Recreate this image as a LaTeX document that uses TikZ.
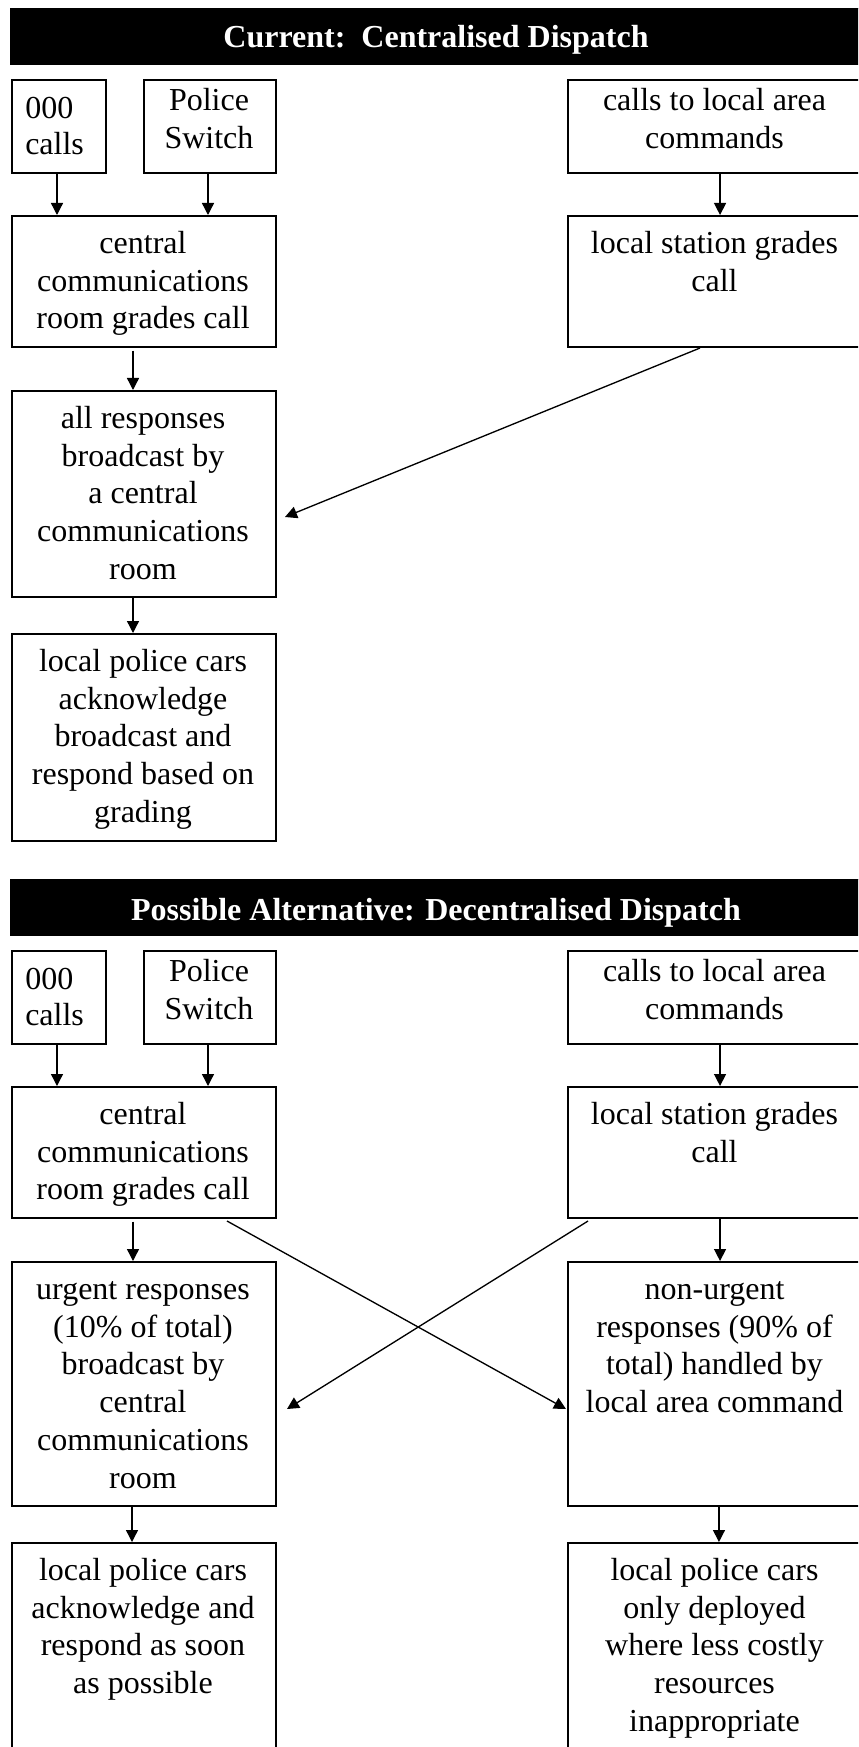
\documentclass[tikz,border=0pt]{standalone}
\usepackage{fontspec}
\setmainfont{Liberation Serif}
\usetikzlibrary{arrows.meta}
\newcommand\fstrut[1]{\rule{0pt}{#1}}
\begin{document}
\begin{tikzpicture}[x=0.75pt,y=-0.75pt,
  box/.style={draw, line width=1.5pt, rectangle, inner sep=0pt, anchor=north west},
  txt/.style={anchor=north, align=center, inner sep=0pt, font=\fontsize{24}{28.35}\selectfont},
  hdr/.style={fill=black, draw=black, inner sep=0pt, anchor=north west, minimum width=639pt, minimum height=42pt},
  htxt/.style={anchor=base, inner sep=0pt, text=white, font=\fontsize{24}{28}\selectfont\bfseries},
  arr/.style={-{Triangle[width=9pt,length=9pt]}, line width=1pt}]
\useasboundingbox (0,0) rectangle (858,1747);
\clip (0,0) rectangle (858,1747);

% ---------- Section 1 ----------
\node[hdr] (H1) at (10,8) {};
\node[htxt] (H1t) at (436,48) {Current:\ \ Centralised Dispatch};

\node[box, minimum width=70.5pt, minimum height=69.75pt] (A1) at (11,79) {};
\node[txt, anchor=north west, align=left, font=\fontsize{24}{27}\selectfont] (A1t) at (25,79) {\fstrut{29.25pt}000\\calls};
\node[box, minimum width=99pt, minimum height=69.75pt] (P1) at (143,79) {};
\node[txt] (P1t) at (209,79) {\fstrut{23.25pt}Police\\Switch};
\node[box, minimum width=221.25pt, minimum height=69.75pt] (L1) at (567,79) {};
\node[txt] (L1t) at (714.5,79) {\fstrut{23.25pt}calls to local area\\commands};

\node[box, minimum width=198pt, minimum height=98.25pt] (C1) at (11,215) {};
\node[txt] (C1t) at (143,215) {\fstrut{28.5pt}central\\communications\\room grades call};
\node[box, minimum width=221.25pt, minimum height=98.25pt] (S1) at (567,215) {};
\node[txt] (S1t) at (714.5,215) {\fstrut{28.5pt}local station grades\\call};

\node[box, minimum width=198pt, minimum height=154.5pt] (R1) at (11,390) {};
\node[txt] (R1t) at (143,390) {\fstrut{28.5pt}all responses\\broadcast by\\a central\\communications\\room};

\node[box, minimum width=198pt, minimum height=155.25pt] (Q1) at (11,633) {};
\node[txt] (Q1t) at (143,633) {\fstrut{28.5pt}local police cars\\acknowledge\\broadcast and\\respond based on\\grading};

\draw[arr] ([xshift=-1.5pt]A1.south) -- ([xshift=-1.5pt]A1.south |- C1.north);
\draw[arr] ([xshift=-1.5pt]P1.south) -- ([xshift=-1.5pt]P1.south |- C1.north);
\draw[arr] ([xshift=3.4pt]L1.south) -- ([xshift=3.4pt]S1.north);
\draw[arr] ([xshift=-8.25pt,yshift=-2pt]C1.south) -- ([xshift=-8.25pt]R1.north);
\draw[arr] ([xshift=-11.6pt]S1.south) -- ([xshift=6pt,yshift=-17.25pt]R1.east);
\draw[arr] ([xshift=-8.25pt]R1.south) -- ([xshift=-8.25pt]Q1.north);

% ---------- Section 2 ----------
\node[hdr] (H2) at (10,879) {};
\node[htxt] (H2t) at (436,920) {Possible Alternative: Decentralised Dispatch};

\node[box, minimum width=70.5pt, minimum height=69.75pt] (A2) at (11,950) {};
\node[txt, anchor=north west, align=left, font=\fontsize{24}{27}\selectfont] (A2t) at (25,950) {\fstrut{29.25pt}000\\calls};
\node[box, minimum width=99pt, minimum height=69.75pt] (P2) at (143,950) {};
\node[txt] (P2t) at (209,950) {\fstrut{23.25pt}Police\\Switch};
\node[box, minimum width=221.25pt, minimum height=69.75pt] (L2) at (567,950) {};
\node[txt] (L2t) at (714.5,950) {\fstrut{23.25pt}calls to local area\\commands};

\node[box, minimum width=198pt, minimum height=98.25pt] (C2) at (11,1086) {};
\node[txt] (C2t) at (143,1086) {\fstrut{28.5pt}central\\communications\\room grades call};
\node[box, minimum width=221.25pt, minimum height=98.25pt] (S2) at (567,1086) {};
\node[txt] (S2t) at (714.5,1086) {\fstrut{28.5pt}local station grades\\call};

\node[box, minimum width=198pt, minimum height=183pt] (U2) at (11,1261) {};
\node[txt] (U2t) at (143,1261) {\fstrut{28.5pt}urgent responses\\(10\% of total)\\broadcast by\\central\\communications\\room};
\node[box, minimum width=221.25pt, minimum height=183pt] (N2) at (567,1261) {};
\node[txt] (N2t) at (714.5,1261) {\fstrut{28.5pt}non-urgent\\responses (90\% of\\total) handled by\\local area command};

\node[box, minimum width=198pt, minimum height=165pt] (Q2) at (11,1542) {};
\node[txt] (Q2t) at (143,1542) {\fstrut{28.5pt}local police cars\\acknowledge and\\respond as soon\\as possible};
\node[box, minimum width=221.25pt, minimum height=165pt] (W2) at (567,1542) {};
\node[txt] (W2t) at (714.5,1542) {\fstrut{28.5pt}local police cars\\only deployed\\where less costly\\resources\\inappropriate};

\draw[arr] ([xshift=-1.5pt]A2.south) -- ([xshift=-1.5pt]A2.south |- C2.north);
\draw[arr] ([xshift=-1.5pt]P2.south) -- ([xshift=-1.5pt]P2.south |- C2.north);
\draw[arr] ([xshift=3.4pt]L2.south) -- ([xshift=3.4pt]S2.north);
\draw[arr] ([xshift=-8.25pt,yshift=-2pt]C2.south) -- ([xshift=-8.25pt]U2.north);
\draw[arr] ([xshift=3.4pt]S2.south) -- ([xshift=3.4pt]N2.north);
\draw[arr] ([xshift=62.25pt,yshift=-1.5pt]C2.south) -- ([xshift=-0.75pt,yshift=-18.75pt]N2.west);
\draw[arr] ([xshift=-95.6pt,yshift=-1.5pt]S2.south) -- ([xshift=7.5pt,yshift=-18.75pt]U2.east);
\draw[arr] ([xshift=-9pt]U2.south) -- ([xshift=-9pt]Q2.north);
\draw[arr] ([xshift=2.6pt]N2.south) -- ([xshift=2.6pt]W2.north);
\end{tikzpicture}
\end{document}
